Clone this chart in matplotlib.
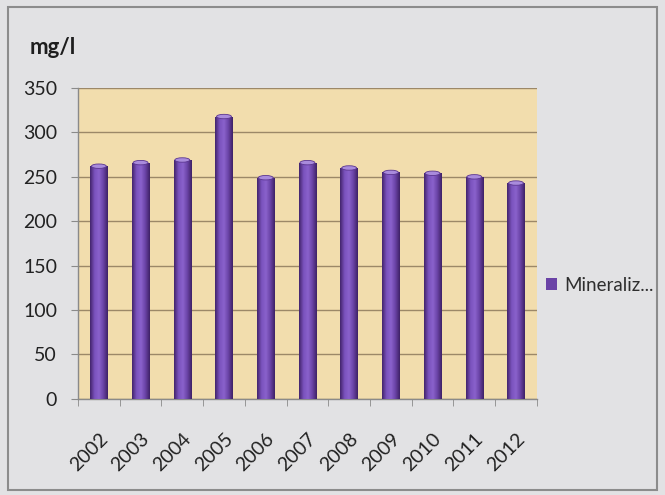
import matplotlib.pyplot as plt
import numpy as np
from matplotlib.colors import LinearSegmentedColormap
from matplotlib.patches import Ellipse, Rectangle

years = ['2002', '2003', '2004', '2005', '2006', '2007', '2008', '2009', '2010', '2011', '2012']
mineraliz = [262, 266, 269, 318, 249, 266, 260, 255, 254, 250, 243]
series_name = 'Mineraliz...'
unit = 'mg/l'

plt.rcParams['font.family'] = ['Lato', 'DejaVu Sans']

fig = plt.figure(figsize=(6.65, 4.95), dpi=100)
fig.patch.set_facecolor('#e2e2e4')
# frame round the chart
fig.patches.append(Rectangle((0.012, 0.01), 0.976, 0.975, transform=fig.transFigure,
                             fill=False, edgecolor='#8c8c8c', linewidth=1.5))

ax = fig.add_axes([0.1173, 0.1949, 0.690, 0.627])
ax.set_facecolor('#f2ddad')

x = np.arange(len(years))
bars = ax.bar(x, mineraliz, width=0.42, color='#6a43a6', edgecolor='none', zorder=3)

# cylinder-like shading on each bar
cyl = LinearSegmentedColormap.from_list('cyl', ['#43246c', '#7a52bd', '#8a62cc', '#6a43a6', '#3f2266'])
grad = np.linspace(0, 1, 64).reshape(1, -1)
for b in bars:
    x0, w, h = b.get_x(), b.get_width(), b.get_height()
    im = ax.imshow(grad, cmap=cyl, aspect='auto', extent=(x0, x0 + w, 0, h), zorder=3)
    im.set_clip_path(b)
    ax.add_patch(Ellipse((x0 + w / 2, h), w * 0.85, 5, facecolor='#a98bdc',
                         edgecolor='#5a3590', linewidth=0.6, zorder=4))

ax.set_xlim(-0.5, len(years) - 0.5)
ax.set_ylim(0, 350)
ax.set_yticks(range(0, 351, 50))
ax.grid(axis='y', color='#9c8868', linewidth=1.0, zorder=1)
ax.set_axisbelow(True)

for s in ['top', 'right']:
    ax.spines[s].set_visible(False)
for s in ['left', 'bottom']:
    ax.spines[s].set_color('#8a8a8a')
    ax.spines[s].set_linewidth(1.0)

ax.set_xticks(x)
ax.set_xticklabels(years, rotation=45, ha='right', va='top', rotation_mode='anchor',
                   fontsize=14, color='#222222')
ax.set_xticks(np.arange(-0.5, len(years)), minor=True)
ax.tick_params(axis='x', which='major', length=0, pad=23)
ax.tick_params(axis='x', which='minor', length=5, color='#8a8a8a', direction='out')
ax.tick_params(axis='y', length=5, color='#8a8a8a', labelsize=14, labelcolor='#222222', pad=10)

fig.text(0.045, 0.89, unit, fontsize=16, fontweight='bold', color='#1e1e1e')

leg = ax.legend([bars[0]], [series_name], loc='center left', bbox_to_anchor=(0.995, 0.365),
                frameon=False, fontsize=13.5, handlelength=0.6, handleheight=0.6,
                handletextpad=0.4, borderaxespad=0.2)
for t in leg.get_texts():
    t.set_color('#2e2e2e')

fig.savefig('out.png', dpi=100, facecolor=fig.get_facecolor())
